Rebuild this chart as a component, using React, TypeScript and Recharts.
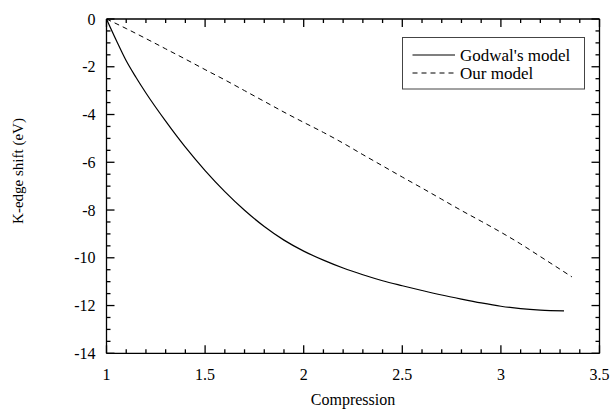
import React from 'react';
import { LineChart, Line, XAxis, YAxis } from 'recharts';

// ---- Data ----
const godwalX = [1.0, 1.05, 1.1, 1.15, 1.2, 1.3, 1.4, 1.5, 1.6, 1.7, 1.8, 1.9, 2.0, 2.1, 2.2, 2.3, 2.4, 2.5, 2.6, 2.7, 2.8, 2.9, 3.0, 3.1, 3.2, 3.32];
const godwalY = [0, -0.9, -1.75, -2.45, -3.1, -4.28, -5.37, -6.35, -7.23, -8.01, -8.69, -9.26, -9.72, -10.1, -10.43, -10.71, -10.96, -11.17, -11.37, -11.56, -11.73, -11.89, -12.03, -12.13, -12.19, -12.22];

const ourX = [1.0, 1.1, 1.2, 1.3, 1.4, 1.5, 1.6, 1.7, 1.8, 1.9, 2.0, 2.1, 2.2, 2.3, 2.4, 2.5, 2.6, 2.7, 2.8, 2.9, 3.0, 3.1, 3.2, 3.3, 3.36];
const ourY = [0, -0.4, -0.82, -1.25, -1.68, -2.12, -2.55, -3.0, -3.45, -3.9, -4.33, -4.75, -5.2, -5.68, -6.15, -6.62, -7.08, -7.55, -8.02, -8.47, -8.93, -9.42, -9.95, -10.48, -10.8];

const seriesNames = ["Godwal's model", 'Our model'];
const xMajorTicks = [1, 1.5, 2, 2.5, 3, 3.5];
const yMajorTicks = [0, -2, -4, -6, -8, -10, -12, -14];
const xLabel = 'Compression';
const yLabel = 'K-edge shift (eV)';

const X_MINOR_STEP = 0.1;
const Y_MINOR_STEP = 0.5;

const godwalData = godwalX.map((x, i) => ({ x, y: godwalY[i] }));
const ourData = ourX.map((x, i) => ({ x, y: ourY[i] }));

const buildTicks = (from: number, to: number, step: number) => {
  const n = Math.round((to - from) / step);
  const out: number[] = [];
  for (let i = 0; i <= n; i++) out.push(Math.round((from + i * step) * 1000) / 1000);
  return out;
};
const xTicks = buildTicks(xMajorTicks[0], xMajorTicks[xMajorTicks.length - 1], X_MINOR_STEP);
const yTicks = buildTicks(yMajorTicks[yMajorTicks.length - 1], yMajorTicks[0], Y_MINOR_STEP);

const isMajorX = (v: number) => xMajorTicks.some((t) => Math.abs(t - v) < 1e-6);
const isMajorY = (v: number) => yMajorTicks.some((t) => Math.abs(t - v) < 1e-6);

const FONT = "'Liberation Serif', 'Times New Roman', serif";
const MAJOR = 8;
const MINOR = 4;
const TICK_W = 1.3;
const TICK_FONT = 16;

const renderBottomTick = (props: any) => {
  const { x, y, payload, index } = props;
  const major = isMajorX(payload.value);
  const len = major ? MAJOR : MINOR;
  return (
    <g key={`b-${index}`}>
      <line x1={x} y1={y} x2={x} y2={y - len} stroke="#000" strokeWidth={TICK_W} />
      {major && (
        <text x={x} y={y + 26.5} textAnchor="middle" fontFamily={FONT} fontSize={TICK_FONT} fill="#000">
          {String(payload.value)}
        </text>
      )}
    </g>
  );
};

const renderTopTick = (props: any) => {
  const { x, y, payload, index } = props;
  const len = isMajorX(payload.value) ? MAJOR : MINOR;
  return (
    <g key={`t-${index}`}>
      <line x1={x} y1={y} x2={x} y2={y + len} stroke="#000" strokeWidth={TICK_W} />
    </g>
  );
};

const renderLeftTick = (props: any) => {
  const { x, y, payload, index } = props;
  const major = isMajorY(payload.value);
  const len = major ? MAJOR : MINOR;
  return (
    <g key={`l-${index}`}>
      <line x1={x} y1={y} x2={x + len} y2={y} stroke="#000" strokeWidth={TICK_W} />
      {major && (
        <text x={x - 11} y={y + 5.5} textAnchor="end" fontFamily={FONT} fontSize={TICK_FONT} fill="#000">
          {String(payload.value)}
        </text>
      )}
    </g>
  );
};

const renderRightTick = (props: any) => {
  const { x, y, payload, index } = props;
  const len = isMajorY(payload.value) ? MAJOR : MINOR;
  return (
    <g key={`r-${index}`}>
      <line x1={x} y1={y} x2={x - len} y2={y} stroke="#000" strokeWidth={TICK_W} />
    </g>
  );
};

const LegendBox = () => (
  <svg width={186} height={56} style={{ position: 'absolute', left: 401, top: 35 }}>
    <rect x={1.5} y={2.5} width={182} height={51.5} fill="#fff" stroke="#444" strokeWidth={1} />
    <line x1={11.5} y1={20} x2={54} y2={20} stroke="#000" strokeWidth={1.2} />
    <text x={59} y={25.5} fontFamily={FONT} fontSize={17} fill="#000">{seriesNames[0]}</text>
    <line x1={11.5} y1={38} x2={54} y2={38} stroke="#000" strokeWidth={1} strokeDasharray="5 4" />
    <text x={59} y={43.5} fontFamily={FONT} fontSize={17} fill="#000">{seriesNames[1]}</text>
  </svg>
);

export default function App() {
  return (
    <div style={{ position: 'absolute', left: 0, top: 0, width: 610, height: 412, background: '#fff' }}>
      <LineChart width={610} height={412} margin={{ top: 9, right: 0.5, bottom: 18.7, left: 6.5 }}>
        <XAxis
          dataKey="x"
          type="number"
          domain={[1, 3.5]}
          ticks={xTicks}
          interval={0}
          tickSize={0}
          tickMargin={0}
          tickLine={false}
          tick={renderBottomTick}
          height={40}
          axisLine={{ stroke: '#000', strokeWidth: 1.3 }}
          allowDataOverflow
        />
        <XAxis
          xAxisId="top"
          orientation="top"
          dataKey="x"
          type="number"
          domain={[1, 3.5]}
          ticks={xTicks}
          interval={0}
          tickSize={0}
          tickMargin={0}
          tickLine={false}
          tick={renderTopTick}
          height={10}
          axisLine={{ stroke: '#000', strokeWidth: 1.3 }}
          allowDataOverflow
        />
        <YAxis
          dataKey="y"
          type="number"
          domain={[-14, 0]}
          ticks={yTicks}
          interval={0}
          tickSize={0}
          tickMargin={0}
          tickLine={false}
          tick={renderLeftTick}
          width={100}
          axisLine={{ stroke: '#000', strokeWidth: 1.3 }}
          allowDataOverflow
        />
        <YAxis
          yAxisId="right"
          orientation="right"
          dataKey="y"
          type="number"
          domain={[-14, 0]}
          ticks={yTicks}
          interval={0}
          tickSize={0}
          tickMargin={0}
          tickLine={false}
          tick={renderRightTick}
          width={10}
          axisLine={{ stroke: '#000', strokeWidth: 1.3 }}
          allowDataOverflow
        />
        <Line
          data={godwalData}
          dataKey="y"
          name={seriesNames[0]}
          type="monotone"
          stroke="#000"
          strokeWidth={1.2}
          dot={false}
          isAnimationActive={false}
        />
        <Line
          data={ourData}
          dataKey="y"
          name={seriesNames[1]}
          type="monotone"
          stroke="#000"
          strokeWidth={1}
          strokeDasharray="5 4"
          dot={false}
          isAnimationActive={false}
        />
        <text x={353} y={405} textAnchor="middle" fontFamily={FONT} fontSize={16} fill="#000">
          {xLabel}
        </text>
        <text
          x={0}
          y={0}
          transform="translate(23, 171) rotate(-90)"
          textAnchor="middle"
          fontFamily={FONT}
          fontSize={15}
          fill="#000"
        >
          {yLabel}
        </text>
      </LineChart>
      <LegendBox />
    </div>
  );
}
